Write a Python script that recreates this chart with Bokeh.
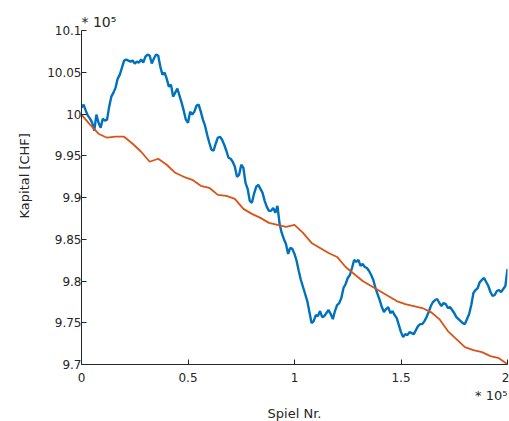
from bokeh.plotting import figure
from bokeh.models import Range1d, FixedTicker, Title
from bokeh.embed import file_html
from bokeh.resources import INLINE

# --- data (game number, capital in CHF) ---
games_blue = list(range(0, 200001, 1000))
kapital_blue = [
    1000760, 1001120, 1000400, 999800, 999440, 998960, 998000, 999920, 998960, 998360,
    999440, 999200, 999320, 1000880, 1002080, 1002560, 1003160, 1004240, 1004720, 1005560,
    1006400, 1006520, 1006400, 1006280, 1006400, 1006040, 1006280, 1006160, 1006520, 1006160,
    1006880, 1007120, 1007000, 1006040, 1006640, 1007120, 1007000, 1005680, 1004720, 1004960,
    1004240, 1003280, 1003520, 1002080, 1002560, 1003040, 1002200, 1001360, 1000400, 999320,
    998960, 1000280, 999920, 1000280, 1001000, 1001120, 1000280, 999320, 998600, 997520,
    996560, 995720, 995600, 996440, 997160, 997280, 996920, 996320, 995600, 994760,
    994640, 994280, 993680, 992480, 992720, 993920, 993560, 991760, 991040, 989600,
    989360, 990440, 991280, 991520, 991040, 990560, 989600, 988880, 988400, 988400,
    988760, 988160, 989000, 986840, 985760, 985040, 984440, 983240, 983960, 983840,
    983240, 982400, 981200, 980120, 979280, 978440, 977600, 976280, 974960, 975200,
    975920, 975800, 976400, 975680, 975800, 976160, 976520, 976040, 975440, 976400,
    977120, 977360, 977960, 979160, 979640, 980360, 980720, 981560, 982520, 982280,
    982520, 981800, 982040, 981680, 981560, 981200, 980720, 980120, 979160, 978440,
    977720, 976880, 976280, 976640, 976880, 976160, 976400, 975920, 975560, 974720,
    973880, 973280, 973640, 973520, 973880, 973760, 973640, 974120, 974600, 974840,
    974840, 975200, 975680, 976280, 977000, 977480, 977720, 977840, 977360, 977000,
    977360, 977240, 976760, 976880, 976520, 976160, 975680, 975440, 975200, 974960,
    974840, 975440, 976040, 977120, 978560, 978920, 979160, 979880, 980120, 980360,
    979880, 979400, 978680, 978200, 978320, 978800, 978920, 978680, 979040, 979400,
    981440,
]

games_orange = list(range(0, 200001, 4000))
kapital_orange = [
    999920, 998720, 997640, 997160, 997280, 997280, 996440, 995480, 994280, 994640,
    993920, 992960, 992480, 992120, 991400, 991160, 990320, 990200, 989840, 988640,
    988040, 987560, 986960, 986720, 986480, 986720, 985760, 984560, 983960, 983360,
    982880, 981680, 980840, 980000, 979400, 978800, 978200, 977600, 977240, 977000,
    976760, 976280, 975440, 974000, 973040, 972080, 971720, 971480, 971000, 970760,
    970040,
]

x_ticks = [0, 50000, 100000, 150000, 200000]
x_tick_labels = ["0", "0.5", "1", "1.5", "2"]
y_ticks = [970000, 975000, 980000, 985000, 990000, 995000, 1000000, 1005000, 1010000]
y_tick_labels = ["9.7", "9.75", "9.8", "9.85", "9.9", "9.95", "10", "10.05", "10.1"]

x_title = "Spiel Nr."
y_title = "Kapital [CHF]"
exponent = "* 10\u2075"

BLUE = "#0072BD"
ORANGE = "#D95319"
TXT = "#262626"
FONT = "DejaVu Sans"

p = figure(width=509, height=421, output_backend="svg", toolbar_location=None,
           x_range=Range1d(0, 200000), y_range=Range1d(970000, 1010000),
           min_border_left=81, min_border_right=2, min_border_top=30,
           min_border_bottom=57)
p.outline_line_color = None
p.xgrid.visible = False
p.ygrid.visible = False
p.background_fill_color = "white"

p.line(games_blue, kapital_blue, line_color=BLUE, line_width=2.4)
p.line(games_orange, kapital_orange, line_color=ORANGE, line_width=1.8)

p.xaxis.ticker = FixedTicker(ticks=x_ticks)
p.xaxis.major_label_overrides = dict(zip(x_ticks, x_tick_labels))
p.yaxis.ticker = FixedTicker(ticks=y_ticks)
p.yaxis.major_label_overrides = dict(zip(y_ticks, y_tick_labels))

for ax in (p.xaxis[0], p.yaxis[0]):
    ax.axis_line_color = TXT
    ax.axis_line_width = 1
    ax.major_tick_line_color = TXT
    ax.major_tick_in = 5
    ax.major_tick_out = 0
    ax.minor_tick_line_color = None
    ax.major_label_text_font = FONT
    ax.major_label_text_font_size = "12px"
    ax.major_label_text_color = TXT
p.xaxis.major_label_standoff = 8
p.yaxis.major_label_standoff = 0

# exponent marker above the y axis
p.title.text = exponent
p.title.align = "left"
p.title.text_font = FONT
p.title.text_font_size = "14px"
p.title.text_font_style = "normal"
p.title.text_color = TXT
p.title.standoff = 1

# exponent marker below the x axis, then the x-axis title
p.add_layout(Title(text=exponent, align="right", text_font=FONT,
                   text_font_size="13px", text_font_style="normal",
                   text_color=TXT, standoff=2), "below")
p.add_layout(Title(text=x_title, align="center", text_font=FONT,
                   text_font_size="13px", text_font_style="normal",
                   text_color=TXT, standoff=0), "below")
# y-axis title
p.add_layout(Title(text=y_title, align="left", text_font=FONT,
                   text_font_size="13px", text_font_style="normal",
                   text_color=TXT, standoff=25, offset=146), "left")

open("out.html", "w").write(file_html(p, INLINE))
